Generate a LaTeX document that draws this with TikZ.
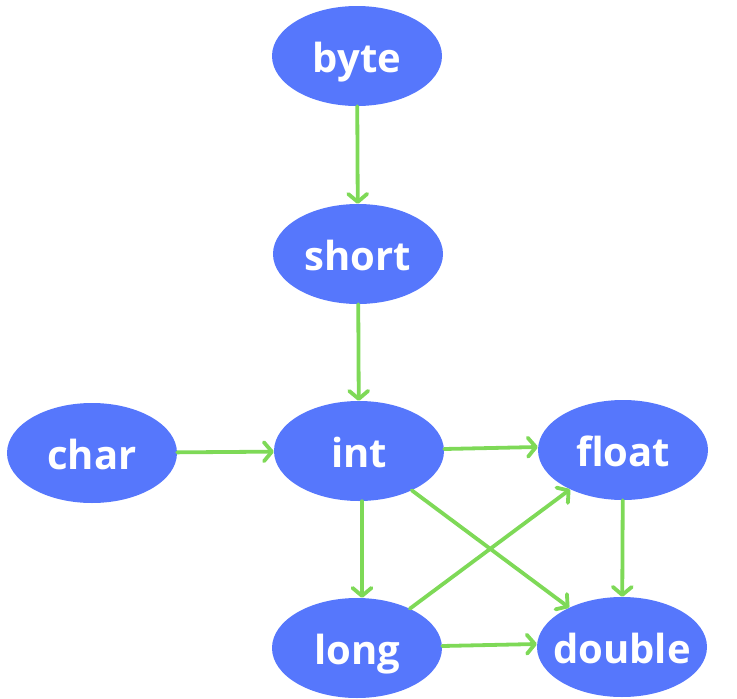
\documentclass[tikz,border=0pt]{standalone}
\usepackage{fontspec}
\setmainfont{Open Sans}
\usetikzlibrary{shapes.geometric,arrows.meta}
\definecolor{nodeblue}{HTML}{5677FC}
\definecolor{edgegreen}{HTML}{7ED957}
\newcommand{\typelabel}[1]{\makebox[0pt][c]{#1}}
\begin{document}
\begin{tikzpicture}[x=1pt,y=-1pt,
  typenode/.style={ellipse,fill=nodeblue,draw=none,minimum width=170pt,minimum height=100pt,inner sep=0pt,text=white,text height=32pt,text depth=0pt,font=\fontsize{40}{42}\selectfont\bfseries},
  conv/.style={draw=edgegreen,line width=3.8pt,line cap=round,-{Straight Barb[length=8pt,width=19pt,line join=round,line cap=round]}}]
\useasboundingbox (0,0) rectangle (737,699);
\node[typenode] (byte) at (357,56) {\typelabel{byte}};
\node[typenode] (short) at (358,254) {\typelabel{short}};
\node[typenode] (int) at (359,451) {\typelabel{int}};
\node[typenode] (char) at (92,453) {\typelabel{char}};
\node[typenode] (float) at (623,450) {\typelabel{float}};
\node[typenode] (long) at (357,648) {\typelabel{long}};
\node[typenode] (double) at (622,647) {\typelabel{double}};
\draw[conv] (byte) -- (short);
\draw[conv] (short) -- (int);
\draw[conv] (char) -- (int);
\draw[conv] ([yshift=2pt]int.east) -- ([yshift=3pt]float.west);
\draw[conv] ([xshift=3pt]int.south) -- ([xshift=5pt]long.north);
\draw[conv] (float) -- (double);
\draw[conv] ([yshift=2pt]long.east) -- ([yshift=3pt]double.west);
\draw[conv] (int) -- (double);
\draw[conv] (long) -- (float);
\end{tikzpicture}
\end{document}
